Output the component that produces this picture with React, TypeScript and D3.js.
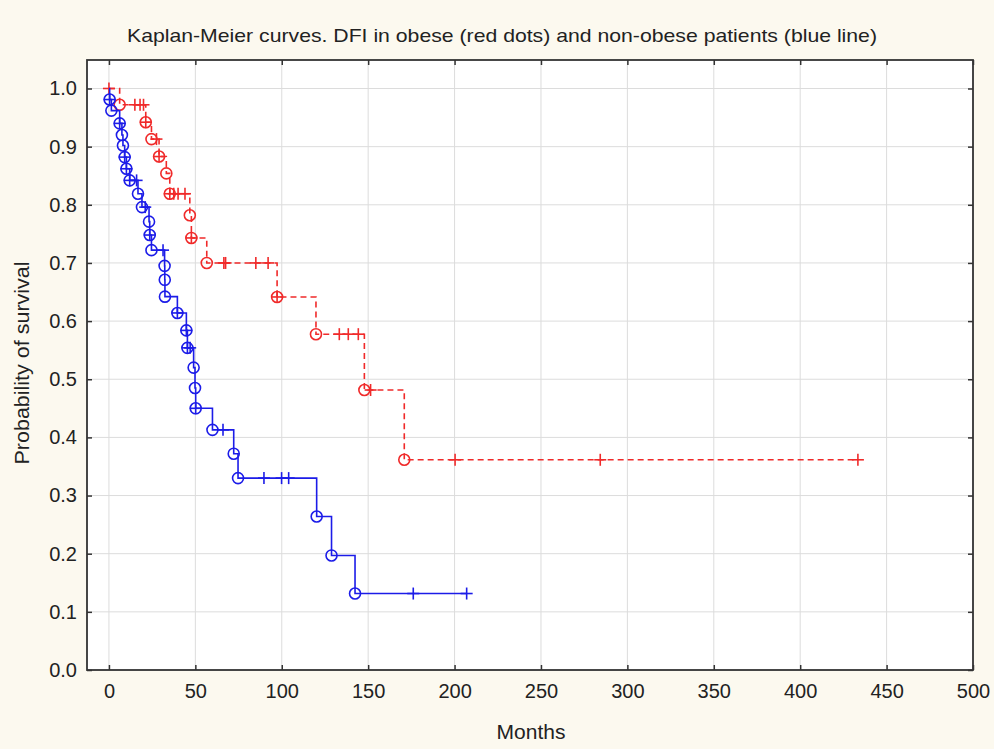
import React, { useRef, useEffect } from "react";
import * as d3 from "d3";

// survival steps: [months, probability after the event]
const blueEvents = [
  [0.4, 0.981], [1.4, 0.962], [6.2, 0.94], [7.5, 0.92], [8.1, 0.902], [9.1, 0.882],
  [10.1, 0.862], [12, 0.842], [16.8, 0.819], [19.1, 0.796], [23.2, 0.771], [23.6, 0.748],
  [24.6, 0.722], [32.2, 0.695], [32.3, 0.671], [32.4, 0.642], [39.6, 0.614], [44.8, 0.584],
  [45.4, 0.554], [49, 0.52], [49.8, 0.485], [50.2, 0.45], [59.9, 0.413], [72.2, 0.372],
  [74.7, 0.33], [120.2, 0.264], [128.8, 0.197], [142.4, 0.1315],
];
// events that also carry a censor mark (drawn as circle with a cross)
const blueBoth = [0.4, 6.2, 9.1, 10.1, 12, 23.6, 39.6, 44.8, 45.4, 50.2];
const blueCensored = [16, 21, 31.3, 47, 66, 89.7, 99.9, 104, 176.1, 207];

const redEvents = [
  [6.2, 0.972], [21.3, 0.942], [24.6, 0.913], [29, 0.883], [33.2, 0.854], [35.2, 0.819],
  [46.8, 0.782], [47.7, 0.743], [56.6, 0.7], [97.3, 0.6415], [119.8, 0.5775],
  [147.8, 0.4815], [170.9, 0.3615],
];
const redBoth = [21.3, 29, 35.2, 47.7, 97.3];
const redCensored = [0, 15, 18, 20, 27.5, 37.5, 40, 44, 66.5, 67.5, 85, 92.1, 133.3, 138.5, 144.3, 151.4, 200.3, 284.3, 433.4];

const xTicks = [0, 50, 100, 150, 200, 250, 300, 350, 400, 450, 500];
const yTicks = [0, 0.1, 0.2, 0.3, 0.4, 0.5, 0.6, 0.7, 0.8, 0.9, 1.0];

const FONT = "'Liberation Sans', Arial, sans-serif";

const App = () => {
  const svgRef = useRef(null);

  useEffect(() => {
    const svg = d3.select(svgRef.current);
    svg.selectAll("*").remove();

    const left = 87, right = 973, top = 60, bottom = 670;

    const x = d3.scaleLinear().domain([-12.7, 500]).range([left, right]);
    const y = d3.scaleLinear().domain([0, 1.049]).range([bottom, top]);

    svg.append("rect").attr("width", 994).attr("height", 749).attr("fill", "#fcf9ef");
    svg
      .append("rect")
      .attr("x", left)
      .attr("y", top)
      .attr("width", right - left)
      .attr("height", bottom - top)
      .attr("fill", "#ffffff");

    // grid
    svg
      .append("g")
      .selectAll("line")
      .data(xTicks)
      .enter()
      .append("line")
      .attr("x1", (d) => x(d))
      .attr("x2", (d) => x(d))
      .attr("y1", top)
      .attr("y2", bottom)
      .attr("stroke", "#dcdcdc")
      .attr("stroke-width", 1);
    svg
      .append("g")
      .selectAll("line")
      .data(yTicks)
      .enter()
      .append("line")
      .attr("x1", left)
      .attr("x2", right)
      .attr("y1", (d) => y(d))
      .attr("y2", (d) => y(d))
      .attr("stroke", "#dcdcdc")
      .attr("stroke-width", 1);

    // inward ticks on all sides
    const tickLen = 5;
    const axisStyle = (g) => {
      g.select(".domain").remove();
      g.selectAll("line").attr("stroke", "#333").attr("stroke-width", 1.5);
      g.selectAll("text")
        .attr("fill", "#222")
        .style("font-family", FONT)
        .style("font-size", "20px");
    };

    svg
      .append("g")
      .attr("transform", `translate(0,${bottom})`)
      .call(d3.axisBottom(x).tickValues(xTicks).tickSizeInner(-tickLen).tickPadding(14).tickFormat(d3.format("d")))
      .call(axisStyle);
    svg
      .append("g")
      .attr("transform", `translate(0,${top})`)
      .call(d3.axisTop(x).tickValues(xTicks).tickSizeInner(-tickLen).tickFormat(() => ""))
      .call(axisStyle);
    svg
      .append("g")
      .attr("transform", `translate(${left},0)`)
      .call(d3.axisLeft(y).tickValues(yTicks).tickSizeInner(-tickLen).tickPadding(10).tickFormat(d3.format(".1f")))
      .call(axisStyle);
    svg
      .append("g")
      .attr("transform", `translate(${right},0)`)
      .call(d3.axisRight(y).tickValues(yTicks).tickSizeInner(-tickLen).tickFormat(() => ""))
      .call(axisStyle);

    const line = d3
      .line()
      .x((d) => x(d[0]))
      .y((d) => y(d[1]))
      .curve(d3.curveStepAfter);

    const survivalAt = (events, t) => {
      let s = 1;
      events.forEach((e) => {
        if (e[0] <= t) s = e[1];
      });
      return s;
    };

    const drawCurve = (events, both, censored, color, dash) => {
      const last = d3.max(censored.concat(events.map((e) => e[0])));
      const pts = [[0, 1], ...events, [last, survivalAt(events, last)]];
      svg
        .append("path")
        .datum(pts)
        .attr("fill", "none")
        .attr("stroke", color)
        .attr("stroke-width", 1.6)
        .attr("stroke-dasharray", dash)
        .attr("d", line);

      svg
        .append("g")
        .selectAll("circle")
        .data(events)
        .enter()
        .append("circle")
        .attr("cx", (d) => x(d[0]))
        .attr("cy", (d) => y(d[1]))
        .attr("r", 5.5)
        .attr("fill", "none")
        .attr("stroke", color)
        .attr("stroke-width", 1.6);

      const crosses = censored
        .map((t) => [t, survivalAt(events, t)])
        .concat(events.filter((e) => both.includes(e[0])));
      const cg = svg.append("g").attr("stroke", color).attr("stroke-width", 1.6);
      crosses.forEach((d) => {
        const cx = x(d[0]);
        const cy = y(d[1]);
        cg.append("line").attr("x1", cx - 6).attr("x2", cx + 6).attr("y1", cy).attr("y2", cy);
        cg.append("line").attr("x1", cx).attr("x2", cx).attr("y1", cy - 6).attr("y2", cy + 6);
      });
    };

    drawCurve(redEvents, redBoth, redCensored, "#f02a2a", "6,4");
    drawCurve(blueEvents, blueBoth, blueCensored, "#1c1ce8", null);

    // frame
    svg
      .append("rect")
      .attr("x", left)
      .attr("y", top)
      .attr("width", right - left)
      .attr("height", bottom - top)
      .attr("fill", "none")
      .attr("stroke", "#333")
      .attr("stroke-width", 1.8);

    svg
      .append("text")
      .attr("x", 502)
      .attr("y", 42)
      .attr("text-anchor", "middle")
      .attr("fill", "#222")
      .attr("textLength", 750)
      .attr("lengthAdjust", "spacingAndGlyphs")
      .style("font-family", FONT)
      .style("font-size", "19px")
      .text("Kaplan-Meier curves. DFI in obese (red dots) and non-obese patients (blue line)");

    svg
      .append("text")
      .attr("x", 531)
      .attr("y", 739)
      .attr("text-anchor", "middle")
      .attr("fill", "#222")
      .style("font-family", FONT)
      .style("font-size", "21px")
      .text("Months");

    svg
      .append("text")
      .attr("transform", "translate(29,363) rotate(-90)")
      .attr("text-anchor", "middle")
      .attr("fill", "#222")
      .attr("textLength", 203)
      .attr("lengthAdjust", "spacingAndGlyphs")
      .style("font-family", FONT)
      .style("font-size", "20px")
      .text("Probability of survival");
  }, []);

  return (
    <div>
      <style>{`body{margin:0}`}</style>
      <svg ref={svgRef} width={994} height={749}></svg>
    </div>
  );
};

export default App;
